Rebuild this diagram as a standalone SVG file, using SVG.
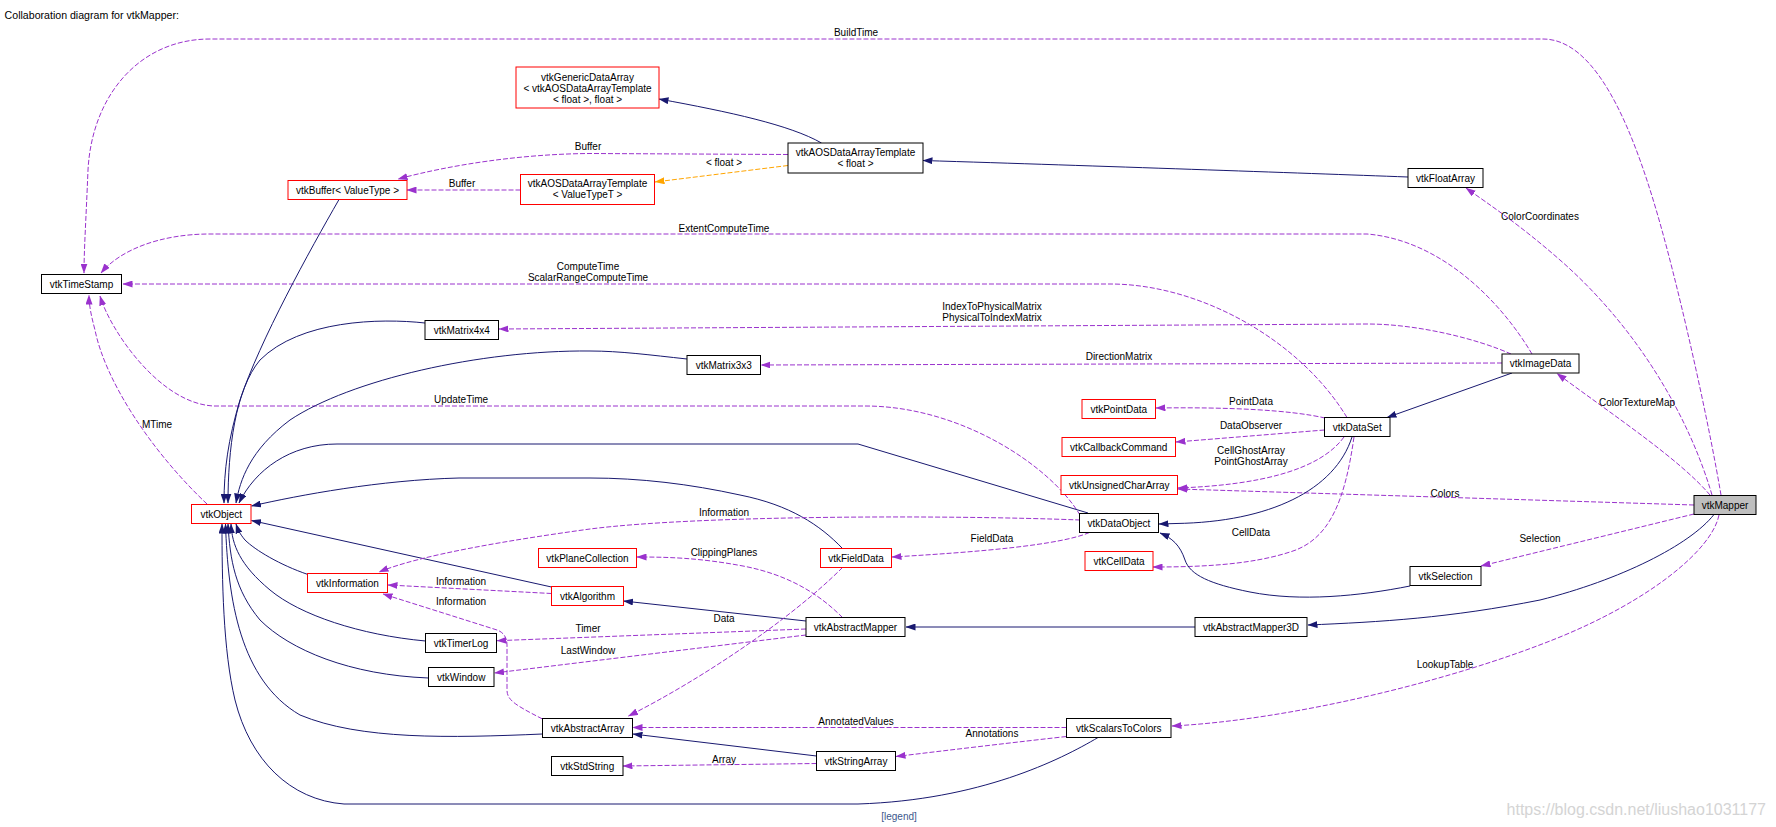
<svg xmlns="http://www.w3.org/2000/svg" width="1776" height="827" viewBox="0 0 1776 827">
<style>
text{font-family:"Liberation Sans",Arial,sans-serif;font-size:10px;fill:#000}
.t{text-anchor:middle}
.n rect{fill:#fff;stroke:#000;stroke-width:1}
.r rect{stroke:#ff0000}
.inh{fill:none;stroke:#191970;stroke-width:1;marker-end:url(#an)}
.use{fill:none;stroke:#9a32cd;stroke-width:1;stroke-dasharray:5,2;marker-end:url(#ap)}
.tpl{fill:none;stroke:#ffa500;stroke-width:1;stroke-dasharray:5,2;marker-end:url(#ao)}
</style>
<defs>
<marker id="an" viewBox="0 0 10 7" refX="9.5" refY="3.5" markerWidth="10" markerHeight="7" orient="auto" markerUnits="userSpaceOnUse"><path d="M0,0 L10,3.5 L0,7 z" fill="#191970" stroke="none"/></marker>
<marker id="ap" viewBox="0 0 10 7" refX="9.5" refY="3.5" markerWidth="10" markerHeight="7" orient="auto" markerUnits="userSpaceOnUse"><path d="M0,0 L10,3.5 L0,7 z" fill="#9a32cd" stroke="none"/></marker>
<marker id="ao" viewBox="0 0 10 7" refX="9.5" refY="3.5" markerWidth="10" markerHeight="7" orient="auto" markerUnits="userSpaceOnUse"><path d="M0,0 L10,3.5 L0,7 z" fill="#ffa500" stroke="none"/></marker>
</defs>
<rect width="1776" height="827" fill="#fff"/>
<text x="4.6" y="19" style="font-size:10.6px">Collaboration diagram for vtkMapper:</text>

<g id="edges">
<path class="use" d="M1721,495 C1710,430 1690,340 1675,280 C1650,180 1610,39 1543,39 L210,39 C140,39 92,95 88,170 C86,220 84,250 84,273"/>
<path class="use" d="M1532,354 C1500,300 1440,240 1367,234 L210,234 C160,234 120,250 101,273"/>
<path class="use" d="M1347,417.5 C1300,340 1200,284 1110,284 L123,284"/>
<path class="use" d="M207,504 C150,450 105,380 95,330 C91,315 89,305 89,295"/>
<path class="use" d="M1080,515 C1050,465 960,406 865,406 L214,406 C160,404 110,330 100,296"/>
<path class="use" d="M1511,354 C1480,340 1420,324 1367,324 L499,329"/>
<path class="use" d="M1502,363 L761,365"/>
<path class="inh" d="M1512,373 L1387,417.5"/>
<path class="use" d="M1325,418 C1290,410 1230,407 1156,408"/>
<path class="use" d="M1324.5,430 L1176,442"/>
<path class="use" d="M1344,437 C1320,470 1260,485 1178,488"/>
<path class="use" d="M1694,505 L1178,489"/>
<path class="inh" d="M1352,437 C1335,490 1270,522 1176,523.5 L1159,524"/>
<path class="use" d="M1354,437 C1345,500 1330,540 1290,552 C1250,565 1200,567 1153,567"/>
<path class="use" d="M1694,514 L1481,566"/>
<path class="inh" d="M1410,586 C1360,596 1300,602 1250,592 C1210,584 1190,575 1185,560 C1180,545 1172,538 1160,533"/>
<path class="inh" d="M1714,514.5 C1690,545 1620,580 1540,600 C1450,618 1380,622 1308,625"/>
<path class="inh" d="M1195,627 L906,627"/>
<path class="use" d="M1719,515 C1712,550 1650,600 1560,637 C1452,681 1290,720 1172,726"/>
<path class="use" d="M1712,495 C1690,420 1640,330 1560,260 C1520,225 1490,205 1466,188"/>
<path class="use" d="M1710,495 C1680,460 1620,420 1557,373.5"/>
<path class="inh" d="M1408,177 C1300,173 1100,166 923,160.5"/>
<path class="inh" d="M821.5,143 C790,125 730,112 659,99"/>
<path class="use" d="M788,154.5 L590,153.5 C520,154 450,165 398,179"/>
<path class="tpl" d="M788,165.5 L655,182"/>
<path class="use" d="M520.5,190 L407,190"/>
<path class="inh" d="M339,199.5 C310,250 260,340 240,400 C228,440 224,470 224,503"/>
<path class="inh" d="M425,323 C380,318 300,320 260,360 C235,390 228,450 228,503"/>
<path class="inh" d="M687,359 C650,355 620,351 590,351 C480,350 350,380 290,420 C250,450 240,480 236,503"/>
<path class="inh" d="M1088,513 L858,444 L337,444 C290,444 255,470 239,503"/>
<path class="inh" d="M842.5,548.5 C820,525 790,505 740,495 C690,484 640,478 590,478 L459,478 C380,480 300,495 251.5,506"/>
<path class="inh" d="M551.5,587 L251.5,520.5"/>
<path class="inh" d="M308,574.5 C280,565 255,550 245,540 C240,534 238,530 236,524"/>
<path class="inh" d="M425.5,641 C360,635 300,615 270,590 C240,565 232,545 231,524"/>
<path class="inh" d="M428.5,678 C350,675 290,650 260,620 C235,590 230,560 228,524"/>
<path class="inh" d="M542.5,734 C450,738 360,740 300,715 C240,680 228,600 225.5,524"/>
<path class="inh" d="M1098,737.5 C1060,760 980,800 858,804 L344,804 C290,800 250,760 235,700 C223,650 222,580 222,524"/>
<path class="use" d="M551.5,593.5 L388,585"/>
<path class="use" d="M1080,520 C950,515 700,515 590,529 C510,540 420,555 379,572"/>
<path class="use" d="M542.5,719 C515,705 507,700 507,690 L507,645 C507,637 503,632 497,630 L383,594"/>
<path class="inh" d="M806,621 L623.5,601"/>
<path class="use" d="M842.5,617.5 C820,595 790,575 743,566 C700,558 670,557 637,557"/>
<path class="use" d="M806,629 L497,640.7"/>
<path class="use" d="M806,635 L494.5,673"/>
<path class="use" d="M842.5,567.5 C790,620 700,680 628.5,716"/>
<path class="use" d="M1066.5,727.5 L633,727.5"/>
<path class="use" d="M1066.5,736.5 C1000,744 950,750 896,756.5"/>
<path class="inh" d="M816.5,756 L633,734"/>
<path class="use" d="M816.5,763.5 L623,766"/>
<path class="use" d="M1089.5,532.5 C1060,545 980,552 892,557"/>
</g>

<g id="edge-labels">
<text class="t" x="856" y="36">BuildTime</text>
<text class="t" x="724" y="231.5">ExtentComputeTime</text>
<text class="t" x="588" y="270">ComputeTime</text>
<text class="t" x="588" y="281">ScalarRangeComputeTime</text>
<text class="t" x="157" y="428">MTime</text>
<text class="t" x="461" y="403">UpdateTime</text>
<text class="t" x="992" y="310">IndexToPhysicalMatrix</text>
<text class="t" x="992" y="321">PhysicalToIndexMatrix</text>
<text class="t" x="1119" y="360">DirectionMatrix</text>
<text class="t" x="1251" y="405">PointData</text>
<text class="t" x="1251" y="429">DataObserver</text>
<text class="t" x="1251" y="453.5">CellGhostArray</text>
<text class="t" x="1251" y="464.5">PointGhostArray</text>
<text class="t" x="1445" y="497">Colors</text>
<text class="t" x="1251" y="536">CellData</text>
<text class="t" x="1540" y="541.5">Selection</text>
<text class="t" x="1445" y="668">LookupTable</text>
<text class="t" x="1540" y="219.5">ColorCoordinates</text>
<text class="t" x="1637" y="406">ColorTextureMap</text>
<text class="t" x="588" y="150">Buffer</text>
<text class="t" x="724" y="166">&lt; float &gt;</text>
<text class="t" x="462" y="187">Buffer</text>
<text class="t" x="724" y="516">Information</text>
<text class="t" x="992" y="542">FieldData</text>
<text class="t" x="461" y="585">Information</text>
<text class="t" x="461" y="605">Information</text>
<text class="t" x="724" y="556">ClippingPlanes</text>
<text class="t" x="724" y="622">Data</text>
<text class="t" x="588" y="632">Timer</text>
<text class="t" x="588" y="653.5">LastWindow</text>
<text class="t" x="856" y="725">AnnotatedValues</text>
<text class="t" x="992" y="737">Annotations</text>
<text class="t" x="724" y="762.5">Array</text>
</g>

<g id="vtkMapper" class="n"><rect x="1694" y="495.5" width="62" height="19" style="fill:#bfbfbf"/><text class="t" x="1725" y="508.5">vtkMapper</text></g>
<g id="vtkTimeStamp" class="n"><rect x="41.5" y="274.5" width="80" height="19"/><text class="t" x="81.5" y="287.5">vtkTimeStamp</text></g>
<g id="vtkGenericDataArray" class="n r"><rect x="516" y="67" width="143" height="41"/><text class="t" x="587.5" y="80.5">vtkGenericDataArray</text><text class="t" x="587.5" y="91.5">&lt; vtkAOSDataArrayTemplate</text><text class="t" x="587.5" y="102.5">&lt; float &gt;, float &gt;</text></g>
<g id="vtkAOSDataArrayTemplate_float" class="n"><rect x="788" y="143" width="135" height="30"/><text class="t" x="855.5" y="155.5">vtkAOSDataArrayTemplate</text><text class="t" x="855.5" y="166.5">&lt; float &gt;</text></g>
<g id="vtkBuffer" class="n r"><rect x="288" y="180.5" width="119" height="19"/><text class="t" x="347.5" y="193.5">vtkBuffer&lt; ValueType &gt;</text></g>
<g id="vtkAOSDataArrayTemplate_ValueTypeT" class="n r"><rect x="520.5" y="174.5" width="134" height="30"/><text class="t" x="587.5" y="187">vtkAOSDataArrayTemplate</text><text class="t" x="587.5" y="198">&lt; ValueTypeT &gt;</text></g>
<g id="vtkFloatArray" class="n"><rect x="1408" y="168.5" width="75" height="19"/><text class="t" x="1445.5" y="181.5">vtkFloatArray</text></g>
<g id="vtkMatrix4x4" class="n"><rect x="425" y="320.5" width="73.5" height="19"/><text class="t" x="461.75" y="333.5">vtkMatrix4x4</text></g>
<g id="vtkMatrix3x3" class="n"><rect x="687" y="355.5" width="73.5" height="19"/><text class="t" x="723.75" y="368.5">vtkMatrix3x3</text></g>
<g id="vtkImageData" class="n"><rect x="1502" y="354" width="77" height="19"/><text class="t" x="1540.5" y="367">vtkImageData</text></g>
<g id="vtkPointData" class="n r"><rect x="1082" y="399.5" width="73.5" height="19"/><text class="t" x="1118.75" y="412.5">vtkPointData</text></g>
<g id="vtkDataSet" class="n"><rect x="1324.5" y="417.5" width="65.5" height="19"/><text class="t" x="1357.25" y="430.5">vtkDataSet</text></g>
<g id="vtkCallbackCommand" class="n r"><rect x="1062" y="437.5" width="113.5" height="19"/><text class="t" x="1118.75" y="450.5">vtkCallbackCommand</text></g>
<g id="vtkUnsignedCharArray" class="n r"><rect x="1061" y="475.5" width="116.5" height="19"/><text class="t" x="1119.25" y="488.5">vtkUnsignedCharArray</text></g>
<g id="vtkObject" class="n r"><rect x="191.5" y="504.5" width="59.5" height="19"/><text class="t" x="221.25" y="517.5">vtkObject</text></g>
<g id="vtkDataObject" class="n"><rect x="1079.5" y="513.5" width="79" height="19"/><text class="t" x="1119" y="526.5">vtkDataObject</text></g>
<g id="vtkPlaneCollection" class="n r"><rect x="538.5" y="548.5" width="98" height="19"/><text class="t" x="587.5" y="561.5">vtkPlaneCollection</text></g>
<g id="vtkFieldData" class="n r"><rect x="820.5" y="548.5" width="71" height="19"/><text class="t" x="856" y="561.5">vtkFieldData</text></g>
<g id="vtkCellData" class="n r"><rect x="1085" y="551.5" width="68" height="19"/><text class="t" x="1119" y="564.5">vtkCellData</text></g>
<g id="vtkSelection" class="n"><rect x="1410" y="566.5" width="71" height="19"/><text class="t" x="1445.5" y="579.5">vtkSelection</text></g>
<g id="vtkInformation" class="n r"><rect x="307.5" y="573.5" width="80" height="19"/><text class="t" x="347.5" y="586.5">vtkInformation</text></g>
<g id="vtkAlgorithm" class="n r"><rect x="551.5" y="586.5" width="72" height="19"/><text class="t" x="587.5" y="599.5">vtkAlgorithm</text></g>
<g id="vtkAbstractMapper" class="n"><rect x="806" y="617.5" width="99" height="19"/><text class="t" x="855.5" y="630.5">vtkAbstractMapper</text></g>
<g id="vtkAbstractMapper3D" class="n"><rect x="1195" y="617.5" width="112" height="19"/><text class="t" x="1251" y="630.5">vtkAbstractMapper3D</text></g>
<g id="vtkTimerLog" class="n"><rect x="425.5" y="633.5" width="71" height="19"/><text class="t" x="461" y="646.5">vtkTimerLog</text></g>
<g id="vtkWindow" class="n"><rect x="428.5" y="667.5" width="65.5" height="19"/><text class="t" x="461.25" y="680.5">vtkWindow</text></g>
<g id="vtkAbstractArray" class="n"><rect x="542.5" y="718.5" width="90" height="19"/><text class="t" x="587.5" y="731.5">vtkAbstractArray</text></g>
<g id="vtkScalarsToColors" class="n"><rect x="1066.5" y="718.5" width="104.5" height="19"/><text class="t" x="1118.75" y="731.5">vtkScalarsToColors</text></g>
<g id="vtkStringArray" class="n"><rect x="816.5" y="751.5" width="79" height="19"/><text class="t" x="856" y="764.5">vtkStringArray</text></g>
<g id="vtkStdString" class="n"><rect x="551.5" y="756.5" width="71.5" height="19"/><text class="t" x="587.25" y="769.5">vtkStdString</text></g>

<text class="t" x="899" y="819.5" style="fill:#3d578c">[legend]</text>
<text x="1766" y="815" style="font-size:16px;fill:#d4d4d4;text-anchor:end">https://blog.csdn.net/liushao1031177</text>
</svg>
